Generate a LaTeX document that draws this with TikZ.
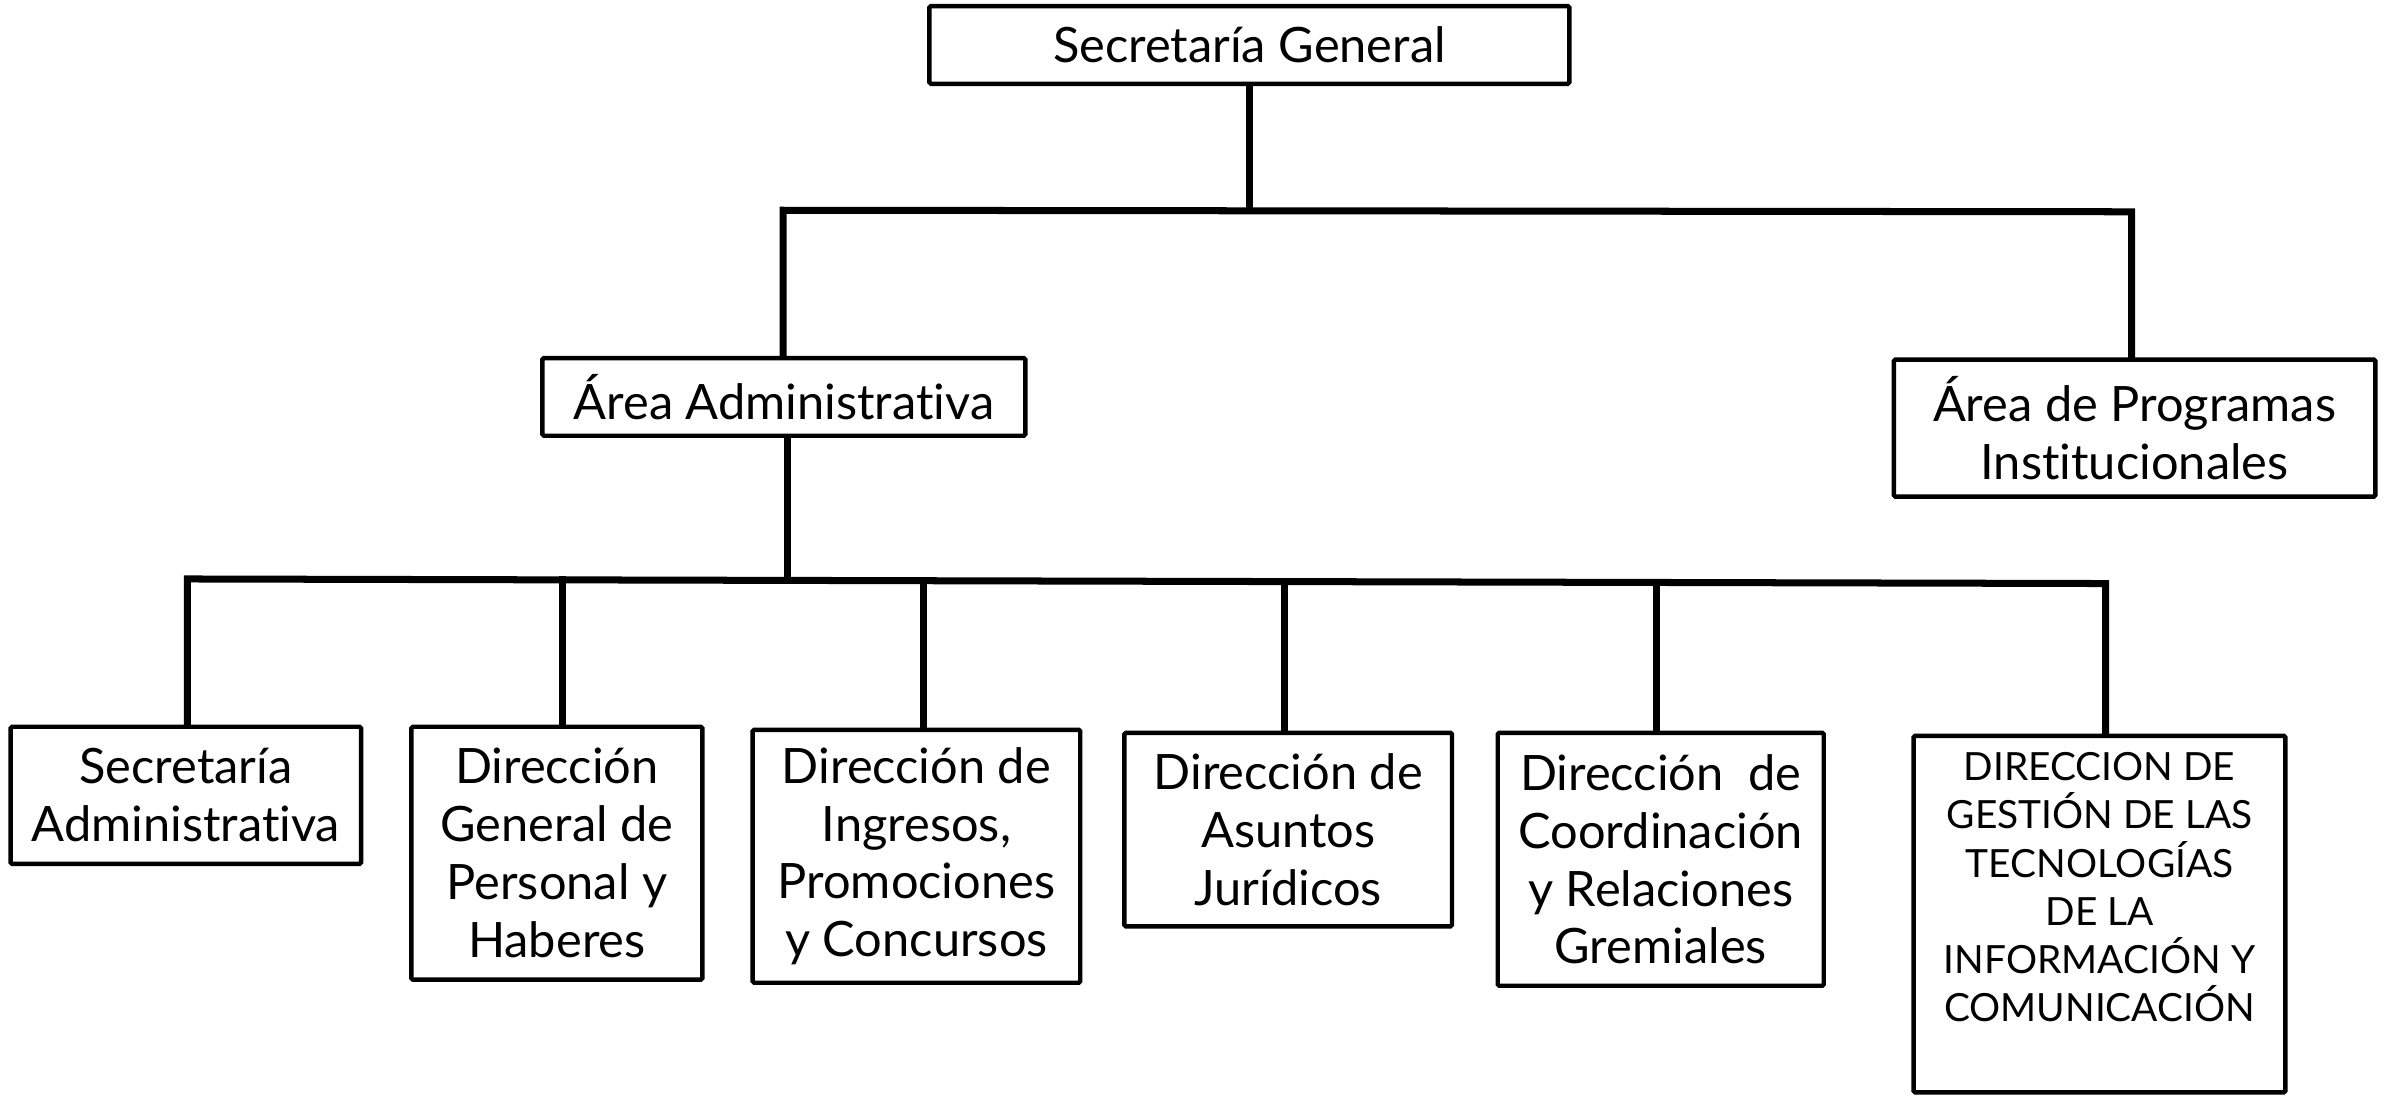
\documentclass[tikz,border=0pt]{standalone}
\usepackage{fontspec}
\setmainfont{Lato}[Ligatures={NoCommon}]
\begin{document}
\begin{tikzpicture}[x=1pt,y=-1pt,
  box/.style={draw=black, line width=2.9pt, inner sep=0pt, align=center, rounded corners=1pt,
              font=\fontsize{32}{38}\selectfont},
  smallbox/.style={box, font=\fontsize{25.5}{31.6}\selectfont},
  conn/.style={line width=4.6pt, line cap=rect, line join=miter}]
\useasboundingbox (0,0) rectangle (1568,719);
% boxes
\node[box, minimum width=420pt, minimum height=51pt] (sg) at (820,29.5) {Secretaría General};
\node[box, minimum width=317pt, minimum height=51pt] (aa) at (514.5,260.5) {Área Administrativa};
\node[box, minimum width=316pt, minimum height=90pt] (ap) at (1401,281) {Área de Programas\\Institucionales};
\node[box, minimum width=230pt, minimum height=90pt] (b1) at (122,522) {Secretaría\\Administrativa};
\node[box, minimum width=191pt, minimum height=166pt] (b2) at (365.5,560) {Dirección\\General de\\Personal y\\Haberes};
\node[box, minimum width=215pt, minimum height=166pt] (b3) at (601.5,562) {Dirección de\\Ingresos,\\Promociones\\y Concursos};
\node[box, minimum width=215pt, minimum height=127pt] (b4) at (845.5,544.5) {Dirección de\\Asuntos\\Jurídicos};
\node[box, minimum width=214pt, minimum height=166pt] (b5) at (1090,564) {Dirección\ \ de\\Coordinación\\y Relaciones\\Gremiales};
\node[smallbox, minimum width=244pt, minimum height=234pt] (b6) at (1378,600) {DIRECCION DE\\GESTIÓN DE LAS\\TECNOLOGÍAS\\DE LA\\INFORMACIÓN Y\\COMUNICACIÓN\\[4pt]\mbox{}};
% junction coordinates
\coordinate (j1) at (820,138);
\coordinate (h1l) at (514,138);
\coordinate (h1r) at (1399,139);
\coordinate (j2) at (517,380.3);
\coordinate (h2l) at (123,380);
\coordinate (t2) at (369,380.6);
\coordinate (t3) at (606,381.2);
\coordinate (t4) at (843,381.7);
\coordinate (t5) at (1087,382.3);
\coordinate (h2r) at (1382,383);
% connectors
\draw[conn] (sg.south) -- (j1);
\draw[conn] (aa.north -| h1l) -- (h1l) -- (h1r) -- (ap.north -| h1r);
\draw[conn] (aa.south -| j2) -- (j2);
\draw[conn] (b1.north -| h2l) -- (h2l) -- (h2r) -- (b6.north -| h2r);
\draw[conn] (t2) -- (b2.north -| t2);
\draw[conn] (t3) -- (b3.north -| t3);
\draw[conn] (t4) -- (b4.north -| t4);
\draw[conn] (t5) -- (b5.north -| t5);
\end{tikzpicture}
\end{document}
